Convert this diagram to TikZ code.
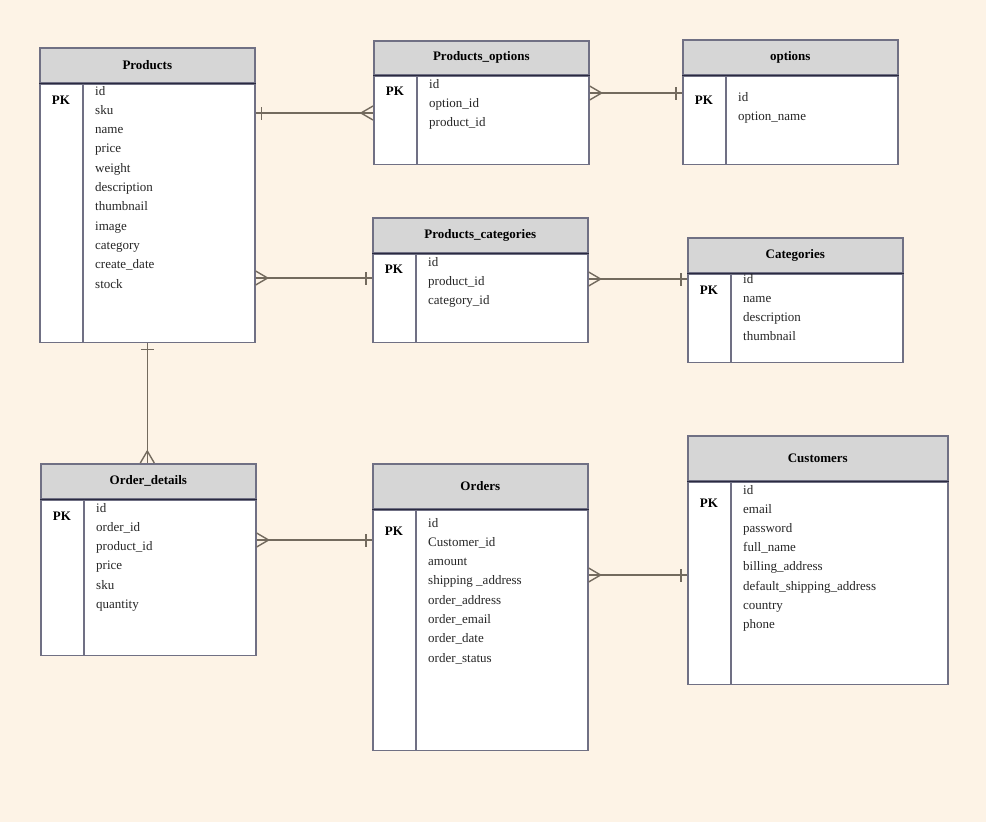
\documentclass[tikz,border=0pt]{standalone}
\usepackage{fontspec}
\setmainfont{Liberation Serif}
\usetikzlibrary{decorations.markings}

\definecolor{paper}{HTML}{FDF3E6}
\definecolor{headgray}{HTML}{D6D6D6}
\definecolor{framec}{HTML}{707084}
\definecolor{sepc}{HTML}{2A2A40}
\definecolor{linkc}{HTML}{736A5E}

\tikzset{
    head/.style={draw=framec, fill=headgray, line width=1.6pt, minimum width=215pt,
        anchor=north west, inner sep=0pt, font=\fontsize{13}{15}\selectfont\bfseries},
    body/.style={draw=framec, fill=white, line width=1.6pt, minimum width=215pt,
        anchor=north, inner sep=0pt},
    pk/.style={inner sep=0pt, font=\fontsize{13}{15}\selectfont\bfseries},
    field/.style={anchor=base west, inner sep=0pt, text=black!85,
        font=\fontsize{13}{15}\selectfont},
    link/.style={draw=linkc, line width=1.4pt},
    onemany/.style={postaction={decorate, decoration={markings,
        mark=at position 6pt with {\draw[link] (0,-6.5pt) -- (0,6.5pt);},
        mark=at position -0.01pt with {\draw[link] (-12pt,0) -- (0,7pt) (-12pt,0) -- (0,-7pt);}}}},
    manyone/.style={postaction={decorate, decoration={markings,
        mark=at position 0.01pt with {\draw[link] (12pt,0) -- (0,7pt) (12pt,0) -- (0,-7pt);},
        mark=at position -6pt with {\draw[link] (0,-6.5pt) -- (0,6.5pt);}}}}
}

\begin{document}
\begin{tikzpicture}[x=1pt, y=-1pt]
    \fill[paper] (0,0) rectangle (986,822);
    \useasboundingbox (0,0) rectangle (986,822);

    % Products
    \node[head, minimum height=35pt] (h-prod) at (39,47) {Products};
    \node[body, minimum height=258pt] (b-prod) at (h-prod.south) {};
    \node[pk] (pk-prod) at (61,100) {PK};
    \foreach \f [count=\i from 0] in {id, sku, name, price, weight, description,
            thumbnail, image, category, create\_date, stock}
        \node[field] (f-prod-\i) at (95,{95+19.3*\i}) {\f};

    % Products_options
    \node[head, minimum height=34pt] (h-po) at (373,40) {Products\_options};
    \node[body, minimum height=88pt] (b-po) at (h-po.south) {};
    \node[pk] (pk-po) at (395,91) {PK};
    \foreach \f [count=\i from 0] in {id, option\_id, product\_id}
        \node[field] (f-po-\i) at (429,{88+19.3*\i}) {\f};

    % options
    \node[head, minimum height=35pt] (h-opt) at (682,39) {options};
    \node[body, minimum height=88pt] (b-opt) at (h-opt.south) {};
    \node[pk] (pk-opt) at (704,100) {PK};
    \foreach \f [count=\i from 0] in {id, option\_name}
        \node[field] (f-opt-\i) at (738,{101+19.3*\i}) {\f};

    % Products_categories
    \node[head, minimum height=35pt] (h-pc) at (372,217) {Products\_categories};
    \node[body, minimum height=88pt] (b-pc) at (h-pc.south) {};
    \node[pk] (pk-pc) at (394,269) {PK};
    \foreach \f [count=\i from 0] in {id, product\_id, category\_id}
        \node[field] (f-pc-\i) at (428,{266+19.3*\i}) {\f};

    % Categories
    \node[head, minimum height=35pt] (h-cat) at (687,237) {Categories};
    \node[body, minimum height=88pt] (b-cat) at (h-cat.south) {};
    \node[pk] (pk-cat) at (709,290) {PK};
    \foreach \f [count=\i from 0] in {id, name, description, thumbnail}
        \node[field] (f-cat-\i) at (743,{283+19.3*\i}) {\f};

    % Order_details
    \node[head, minimum height=35pt] (h-od) at (40,463) {Order\_details};
    \node[body, minimum height=155pt] (b-od) at (h-od.south) {};
    \node[pk] (pk-od) at (62,516) {PK};
    \foreach \f [count=\i from 0] in {id, order\_id, product\_id, price, sku, quantity}
        \node[field] (f-od-\i) at (96,{512+19.3*\i}) {\f};

    % Orders
    \node[head, minimum height=45pt] (h-ord) at (372,463) {Orders};
    \node[body, minimum height=240pt] (b-ord) at (h-ord.south) {};
    \node[pk] (pk-ord) at (394,531) {PK};
    \foreach \f [count=\i from 0] in {id, Customer\_id, amount, shipping \_address,
            order\_address, order\_email, order\_date, order\_status}
        \node[field] (f-ord-\i) at (428,{527+19.3*\i}) {\f};

    % Customers
    \node[head, minimum height=45pt, minimum width=260pt] (h-cus) at (687,435) {Customers};
    \node[body, minimum height=202pt, minimum width=260pt] (b-cus) at (h-cus.south) {};
    \node[pk] (pk-cus) at (709,503) {PK};
    \foreach \f [count=\i from 0] in {id, email, password, full\_name, billing\_address,
            default\_shipping\_address, country, phone}
        \node[field] (f-cus-\i) at (743,{494+19.2*\i}) {\f};

    % header rules and key columns
    \foreach \t in {prod, po, opt, pc, cat, od, ord, cus} {
        \draw[sepc, line width=1.2pt] (h-\t.south west) -- (h-\t.south east);
        \draw[framec, line width=1.6pt] ([xshift=44pt]b-\t.north west) -- ([xshift=44pt]b-\t.south west);
    }

    % relations
    \draw[link, onemany] (b-prod.east |- 0,113) -- (b-po.west |- 0,113);
    \draw[link, manyone] (b-po.east |- 0,93) -- (b-opt.west |- 0,93);
    \draw[link, manyone] (b-prod.east |- 0,278) -- (b-pc.west |- 0,278);
    \draw[link, manyone] (b-pc.east |- 0,279) -- (b-cat.west |- 0,279);
    \draw[link, onemany] (b-prod.south) -- (h-od.north -| b-prod.south);
    \draw[link, manyone] (b-od.east |- 0,540) -- (b-ord.west |- 0,540);
    \draw[link, manyone] (b-ord.east |- 0,575) -- (b-cus.west |- 0,575);
\end{tikzpicture}
\end{document}
